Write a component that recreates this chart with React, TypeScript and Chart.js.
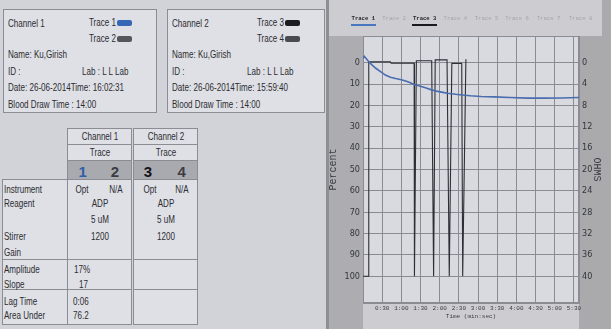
import React, { useEffect, useRef } from 'react';
import { Chart, registerables } from 'chart.js';

Chart.register(...registerables);

// ---- chart data (time in seconds, value in percent) ----
const trace1Times = [0, 2, 5, 9, 14, 20, 28, 35, 43, 51, 60, 68, 74, 80, 90, 100, 106, 115, 125, 132, 145, 155, 168, 185, 205, 230, 257, 285, 310, 338];
const trace1Percent = [-2.0, -3.0, -2.0, -0.5, 1.0, 2.6, 4.3, 5.8, 6.8, 7.4, 8.0, 8.7, 9.4, 10.2, 11.0, 12.0, 12.6, 13.3, 13.9, 14.3, 14.8, 15.1, 15.5, 15.8, 16.0, 16.3, 16.6, 16.6, 16.5, 16.3];

const trace3Times = [0, 8.5, 9, 43, 44, 80, 80.5, 83.5, 107.5, 110.5, 113, 131.5, 135, 139, 154.5, 156, 161, 162];
const trace3Percent = [100, 100, -0.4, -0.4, 0.2, 0.2, 100, -0.9, -0.9, 100, -1.3, -1.3, 100, 0.3, 0.3, 100, -1.4, -1.4];

const timeTicks = [30, 60, 90, 120, 150, 180, 210, 240, 270, 300, 330];
const percentTicks = [0, 10, 20, 30, 40, 50, 60, 70, 80, 90, 100];
const ohmsTicks = [0, 4, 8, 12, 16, 20, 24, 28, 32, 36, 40];
const tabLabels = ['Trace 1', 'Trace 2', 'Trace 3', 'Trace 4', 'Trace 5', 'Trace 6', 'Trace 7', 'Trace 8'];

const GRID = '#8a8b93';
const MONO = '"Liberation Mono", "DejaVu Sans Mono", monospace';
const NARROW = '"Liberation Sans Narrow", "DejaVu Sans Condensed", "Liberation Sans", sans-serif';
const SANS = '"Liberation Sans", Arial, sans-serif';

const fmtTime = (v: number) => `${Math.floor(v / 60)}:${String(Math.round(v % 60)).padStart(2, '0')}`;

type TP = { x: number; y: number; children: React.ReactNode; size?: number; color?: string; anchor?: 'left' | 'center' | 'right'; sx?: number; weight?: number; family?: string };
const T = ({ x, y, children, size = 11.5, color = '#2c2c32', anchor = 'left', sx = 0.7, weight = 400, family = SANS }: TP) => {
  const tx = anchor === 'center' ? '-50%' : anchor === 'right' ? '-100%' : '0';
  return (
    <div
      style={{
        position: 'absolute', left: x, top: y, fontSize: size, lineHeight: 1, color, whiteSpace: 'nowrap',
        fontWeight: weight, fontFamily: family,
        transform: `translate(${tx}, -50%) scaleX(${sx})`, transformOrigin: `${anchor} center`,
      }}
    >
      {children}
    </div>
  );
};

const Box = ({ x, y, w, h, bg = '#dfe0e5' }: { x: number; y: number; w: number; h: number; bg?: string }) => (
  <div style={{ position: 'absolute', left: x, top: y, width: w, height: h, boxSizing: 'border-box', border: '1px solid #8c8d94', background: bg }} />
);

const Swatch = ({ x, y, color }: { x: number; y: number; color: string }) => (
  <div style={{ position: 'absolute', left: x, top: y, width: 15, height: 6, borderRadius: 2, background: color }} />
);

const areaBg = {
  id: 'areaBg',
  beforeDraw(chart: any) {
    const { ctx, chartArea: a } = chart;
    ctx.save();
    ctx.fillStyle = '#d9d9e0';
    ctx.fillRect(a.left, a.top, a.right - a.left, a.bottom - a.top);
    ctx.strokeStyle = GRID;
    ctx.lineWidth = 1;
    ctx.strokeRect(a.left + 0.5, a.top + 0.5, a.right - a.left - 1, a.bottom - a.top - 1);
    ctx.restore();
  },
};

export default function App() {
  const ref = useRef<HTMLCanvasElement>(null);

  useEffect(() => {
    const chart = new Chart(ref.current as HTMLCanvasElement, {
      type: 'line',
      data: {
        datasets: [
          {
            label: 'Trace 1',
            data: trace1Times.map((t, i) => ({ x: t, y: trace1Percent[i] })),
            borderColor: '#4a6db0',
            borderWidth: 1.6,
            pointRadius: 0,
            tension: 0,
            yAxisID: 'y',
          },
          {
            label: 'Trace 3',
            data: trace3Times.map((t, i) => ({ x: t, y: trace3Percent[i] })),
            borderColor: '#2e2e36',
            borderWidth: 1.1,
            pointRadius: 0,
            tension: 0,
            yAxisID: 'y',
          },
        ],
      },
      options: {
        animation: false,
        responsive: false,
        maintainAspectRatio: false,
        layout: { padding: { top: 36, left: 0, right: 0, bottom: 0 } },
        plugins: { legend: { display: false }, tooltip: { enabled: false } },
        scales: {
          x: {
            type: 'linear',
            min: 0,
            max: 338,
            afterFit: (s: any) => { s.height = 26; },
            afterBuildTicks: (s: any) => { s.ticks = timeTicks.map((v) => ({ value: v })); },
            grid: { color: GRID, drawTicks: false },
            border: { color: GRID },
            ticks: {
              padding: 2, autoSkip: false, maxRotation: 0, color: '#3a3a42',
              font: { family: MONO, size: 6 },
              callback: (v: any) => fmtTime(Number(v)),
            },
            title: { display: true, text: 'Time (min:sec)', color: '#3a3a42', font: { family: MONO, size: 6 }, padding: { top: 0, bottom: 9 } },
          },
          y: {
            type: 'linear',
            position: 'left',
            reverse: true,
            min: -12.5,
            max: 112.5,
            afterFit: (s: any) => { s.width = 37; },
            afterBuildTicks: (s: any) => { s.ticks = percentTicks.map((v) => ({ value: v })); },
            grid: { color: GRID, drawTicks: false },
            border: { color: GRID },
            ticks: { padding: 3, color: '#34343c', font: { family: NARROW, size: 9 } },
            title: { display: true, text: 'Percent', color: '#3a3a42', font: { family: MONO, size: 10 }, padding: { top: 1, bottom: 0 } },
          },
          y2: {
            type: 'linear',
            position: 'right',
            reverse: true,
            min: -5,
            max: 45,
            afterFit: (s: any) => { s.width = 32; },
            afterBuildTicks: (s: any) => { s.ticks = ohmsTicks.map((v) => ({ value: v })); },
            grid: { display: false, drawTicks: false },
            border: { color: GRID },
            ticks: { padding: 3, color: '#34343c', font: { family: NARROW, size: 9 } },
            title: { display: true, text: 'OHMS', color: '#3a3a42', font: { family: MONO, size: 10 }, padding: { top: 8, bottom: 0 } },
          },
        },
      } as any,
      plugins: [areaBg],
    });
    return () => chart.destroy();
  }, []);

  const tabCenters = [363.3, 394, 424.7, 455.3, 486.5, 517, 548.5, 580.5];

  return (
    <div style={{ position: 'fixed', left: 0, top: 0, width: 611, height: 329, background: '#d2d3d8', overflow: 'hidden' }}>
      {/* Channel 1 header box */}
      <Box x={3} y={9} w={154} h={104} />
      <T x={8} y={24}>Channel 1</T>
      <T x={116} y={23} anchor="right">Trace 1</T>
      <Swatch x={117} y={20} color="#3567b5" />
      <T x={116} y={39} anchor="right">Trace 2</T>
      <Swatch x={117} y={36} color="#55565c" />
      <T x={8} y={55}>Name: Ku,Girish</T>
      <T x={8} y={72}>ID :</T>
      <T x={82} y={72}>Lab : L L Lab</T>
      <T x={8} y={88}>Date: 26-06-2014Time: 16:02:31</T>
      <T x={8} y={105}>Blood Draw Time : 14:00</T>

      {/* Channel 2 header box */}
      <Box x={167} y={9} w={158} h={104} />
      <T x={172} y={24}>Channel 2</T>
      <T x={283.5} y={23} anchor="right">Trace 3</T>
      <Swatch x={284.5} y={20} color="#1c1c20" />
      <T x={283.5} y={39} anchor="right">Trace 4</T>
      <Swatch x={284.5} y={36} color="#4a4b50" />
      <T x={172} y={55}>Name: Ku,Girish</T>
      <T x={172} y={72}>ID :</T>
      <T x={247} y={72}>Lab : L L Lab</T>
      <T x={172} y={88}>Date: 26-06-2014Time: 15:59:40</T>
      <T x={172} y={105}>Blood Draw Time : 14:00</T>

      {/* Table */}
      <Box x={67} y={128} w={65} h={17} />
      <Box x={67} y={144} w={65} h={17} />
      <Box x={67} y={160} w={65} h={20} bg="#a9aab0" />
      <Box x={67} y={179} w={65} h={81} />
      <Box x={67} y={259} w={65} h={31} />
      <Box x={67} y={289} w={65} h={36} />
      <Box x={133} y={128} w={65} h={17} />
      <Box x={133} y={144} w={65} h={17} />
      <Box x={133} y={160} w={65} h={20} bg="#a9aab0" />
      <Box x={133} y={179} w={65} h={81} />
      <Box x={133} y={259} w={65} h={31} />
      <Box x={133} y={289} w={65} h={36} />
      <Box x={2} y={179} w={66} h={81} />
      <Box x={2} y={259} w={66} h={31} />
      <Box x={2} y={289} w={66} h={36} />

      <T x={99.5} y={137} anchor="center">Channel 1</T>
      <T x={99.5} y={153} anchor="center">Trace</T>
      <T x={82.7} y={170.5} anchor="center" size={15} weight={700} sx={1} color="#2f5fa8">1</T>
      <T x={115} y={170.5} anchor="center" size={15} weight={700} sx={1} color="#3c3d44">2</T>
      <T x={165.5} y={137} anchor="center">Channel 2</T>
      <T x={165.5} y={153} anchor="center">Trace</T>
      <T x={148} y={170.5} anchor="center" size={15} weight={700} sx={1} color="#141418">3</T>
      <T x={181.7} y={170.5} anchor="center" size={15} weight={700} sx={1} color="#3c3d44">4</T>

      <T x={4} y={190}>Instrument</T>
      <T x={4} y={203.5}>Reagent</T>
      <T x={4} y={237}>Stirrer</T>
      <T x={4} y={252.5}>Gain</T>
      <T x={81.7} y={190} anchor="center">Opt</T>
      <T x={116} y={190} anchor="center">N/A</T>
      <T x={99.5} y={203.5} anchor="center">ADP</T>
      <T x={99.5} y={220} anchor="center">5 uM</T>
      <T x={99.5} y={237} anchor="center">1200</T>
      <T x={150} y={190} anchor="center">Opt</T>
      <T x={181.7} y={190} anchor="center">N/A</T>
      <T x={165.5} y={203.5} anchor="center">ADP</T>
      <T x={165.5} y={220} anchor="center">5 uM</T>
      <T x={165.5} y={237} anchor="center">1200</T>

      <T x={4} y={270}>Amplitude</T>
      <T x={4} y={284.5}>Slope</T>
      <T x={74} y={270}>17%</T>
      <T x={78.5} y={284.5}>17</T>
      <T x={4} y={301.5}>Lag Time</T>
      <T x={4} y={315.5}>Area Under</T>
      <T x={73} y={301.5}>0:06</T>
      <T x={73} y={315.5}>76.2</T>

      {/* Right chart panel */}
      <div style={{ position: 'absolute', left: 326, top: 0, width: 285, height: 329, background: '#cdcdd1' }}>
        <div style={{ position: 'absolute', left: 0, top: 0, width: 3, height: 329, background: '#8e8e93' }} />
        <div style={{ position: 'absolute', left: 3, top: 36, width: 34, height: 293, background: '#adadb1' }} />
        <div style={{ position: 'absolute', left: 253, top: 36, width: 32, height: 293, background: '#aaaaad' }} />
        <div style={{ position: 'absolute', left: 276, top: 0, width: 9, height: 36, background: '#aaaaad' }} />
        <canvas ref={ref} width={285} height={329} style={{ position: 'absolute', left: 0, top: 0, width: 285, height: 329 }} />
        {tabLabels.map((lab, i) => {
          const active = i === 0 || i === 2;
          return (
            <React.Fragment key={lab}>
              <T x={tabCenters[i] - 326} y={19} anchor="center" size={5.6} sx={1} family={MONO} weight={active ? 700 : 400} color={active ? '#26262c' : '#a3a3ab'}>{lab}</T>
              {active && (
                <div style={{ position: 'absolute', left: tabCenters[i] - 326 - 12.5, top: 24, width: 25, height: 2, background: i === 0 ? '#4a78c0' : '#1a1a1e' }} />
              )}
            </React.Fragment>
          );
        })}
      </div>
    </div>
  );
}
